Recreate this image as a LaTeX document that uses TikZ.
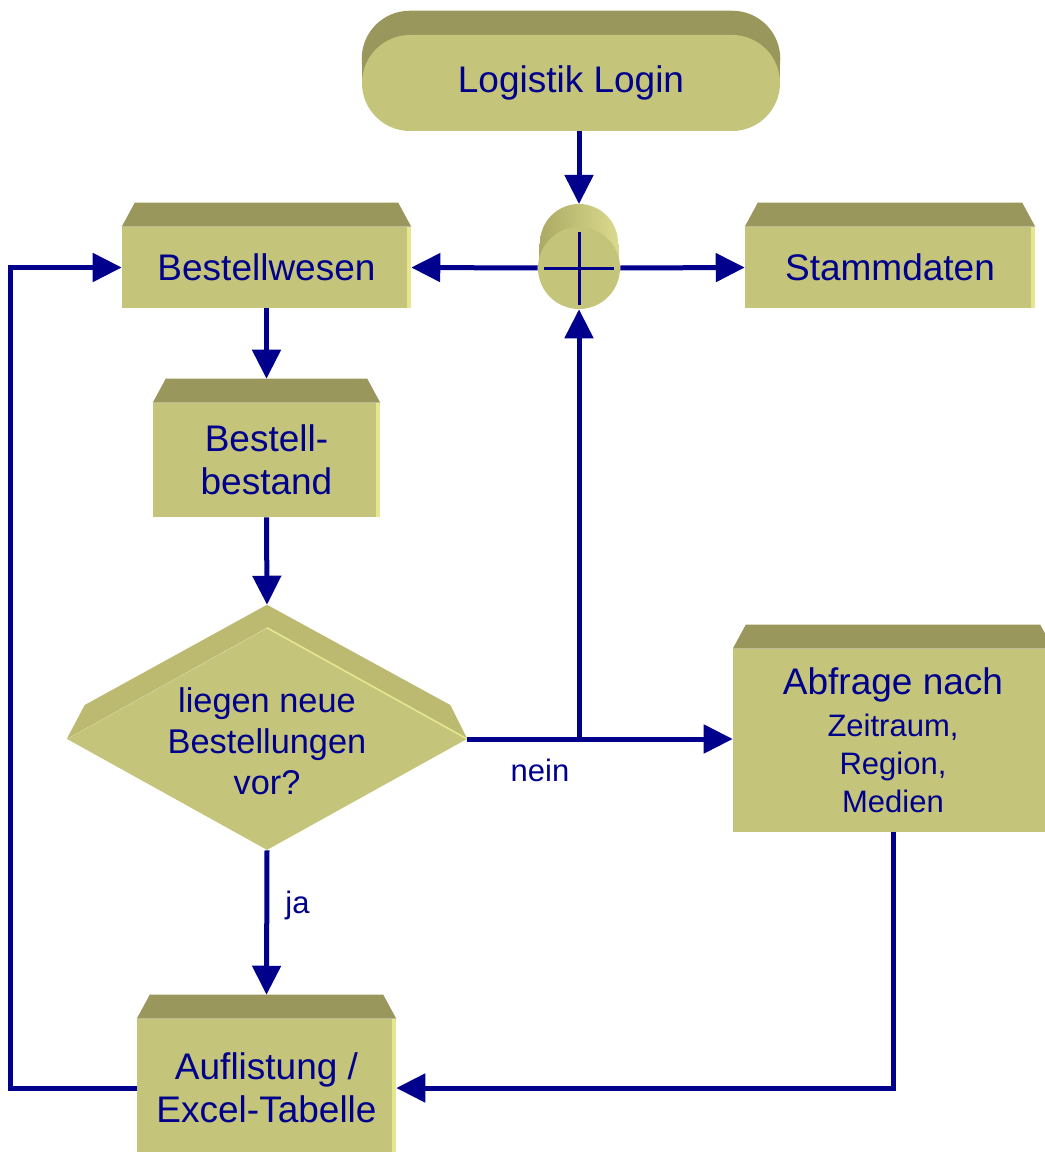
\documentclass[tikz,border=0pt]{standalone}
\usepackage{fontspec}
\setmainfont{Liberation Sans}
\usetikzlibrary{shapes.geometric,arrows.meta,calc,backgrounds}

\definecolor{navyline}{RGB}{0,0,140}
\definecolor{boxface}{RGB}{196,196,122}
\definecolor{boxtop}{RGB}{153,151,92}
\definecolor{boxedge}{RGB}{230,230,145}
\definecolor{diatop}{RGB}{188,186,112}
\definecolor{cylleft}{RGB}{172,170,100}
\definecolor{cylright}{RGB}{218,218,142}

\newcommand{\bigfont}{\fontsize{27.75}{32}\selectfont}
\newcommand{\diafont}{\fontsize{25.75}{30.75}\selectfont}
\newcommand{\smallfont}{\fontsize{23.25}{28.5}\selectfont}

\tikzset{
  face/.style={fill=boxface, draw=none, inner sep=0pt, text=navyline, align=center, font=\bigfont},
  procbox/.style={face, rectangle},
  topface/.style={fill=boxtop},
  flow/.style={draw=navyline, line width=3.75pt, -{Triangle[length=21.75pt,width=21pt]}},
  lbl/.style={text=navyline, font=\smallfont, inner sep=0pt}
}

\begin{document}
\begin{tikzpicture}[x=0.75pt,y=0.75pt,yscale=-1]
\path[use as bounding box, clip] (0,0) rectangle (1045,1152);

%Shape: Terminator
\node[face, rectangle, rounded corners=36pt, minimum width=313.5pt, minimum height=72pt] (login) at (571,83) {\raisebox{-3pt}{Logistik Login}};
%Shape: Junction
\node[face, circle, minimum size=61.5pt] (jn) at (579,268) {};
%Shape: Boxes
\node[procbox, minimum width=216.75pt, minimum height=60.75pt] (bw) at (266.5,267.5) {Bestellwesen};
\node[procbox, minimum width=217.5pt, minimum height=60.75pt] (sd) at (890,267.5) {Stammdaten};
\node[procbox, minimum width=170.25pt, minimum height=85.5pt] (bb) at (266.5,460) {Bestell-\\bestand};
\node[procbox, minimum width=240pt, minimum height=137.25pt, font=\smallfont] (ab) at (893,740.5) {{\bigfont Abfrage nach}\\[3pt]Zeitraum,\\Region,\\Medien};
\node[procbox, minimum width=194.25pt, minimum height=103.5pt] (al) at (266.5,1088) {Auflistung /\\Excel-Tabelle};
%Shape: Diamond
\node[face, diamond, minimum width=300pt, minimum height=166.5pt] (dq) at (267,739) {};
\node[face, fill=none, font=\diafont] (dqt) at (267,741) {liegen neue\\Bestellungen\\vor?};

%3D faces behind
\begin{scope}[on background layer]
  \fill[topface, rounded corners=36pt] ($(login.south west)+(0,-24)$) rectangle ($(login.north east)+(0,-24)$);
  \fill[topface] ($(login.west)+(0,-24)$) rectangle (login.east);
  \shade[left color=cylleft, right color=cylright] ($(jn.west)+(2,-25)$) rectangle ($(jn.east)+(-2,0)$);
  \shade[left color=cylleft, right color=cylright] ($(jn.center)+(0,-25)$) circle[radius=39];
  \coordinate (jn-top) at ($(jn.center)+(0,-64)$);
  \foreach \n in {bw,sd,bb,ab,al}{
    \fill[topface] (\n.north west) -- ++(13,-24) -- ($(\n.north east)+(-13,-24)$) -- (\n.north east) -- cycle;
    \coordinate (\n-top) at ($(\n.north)+(0,-24)$);
  }
  \fill[diatop] (dq.west) -- ++(18,-34) -- ($(dq.north)+(0,-23)$) -- ($(dq.east)+(-17,-34)$) -- (dq.east) -- (dq.north) -- cycle;
  \coordinate (dq-top) at ($(dq.north)+(0,-23)$);
\end{scope}

%light edges
\foreach \n in {bw,sd,bb,ab,al}{
  \fill[boxedge] (\n.north east) rectangle ($(\n.south east)+(-4,0)$);
}
\draw[boxedge, line width=1.2pt] (dq.north) -- (dq.east);

%Cross in junction
\draw[navyline, line width=2.25pt] ($(jn.center)+(-35,0)$) -- ($(jn.center)+(35,0)$);
\draw[navyline, line width=2.25pt] ($(jn.center)+(0,-36)$) -- ($(jn.center)+(0,37)$);

%Straight Lines
\draw[flow] (jn-top |- login.south) -- (jn-top);
\draw[flow] (jn.west) -- (bw.east);
\draw[flow] (jn.east) -- (sd.west);
\draw[flow] (bw.south) -- (bb-top);
\draw[flow] (bb.south) -- (dq-top);
\draw[flow] (dq.east) -- (dq.east -| ab.west);
\draw[flow] (dq.east -| jn.south) -- (jn.south);
\draw[flow] (dq.south) -- (al-top);
\draw[flow] (ab.south) |- (al.east);
\draw[flow] (al.west) -- ++(-126,0) |- (bw.west);

% Text Node
\node[lbl, anchor=base] (nein) at (540,781) {nein};
% Text Node
\node[lbl, anchor=base] (ja) at (297.5,913) {ja};

\end{tikzpicture}
\end{document}
